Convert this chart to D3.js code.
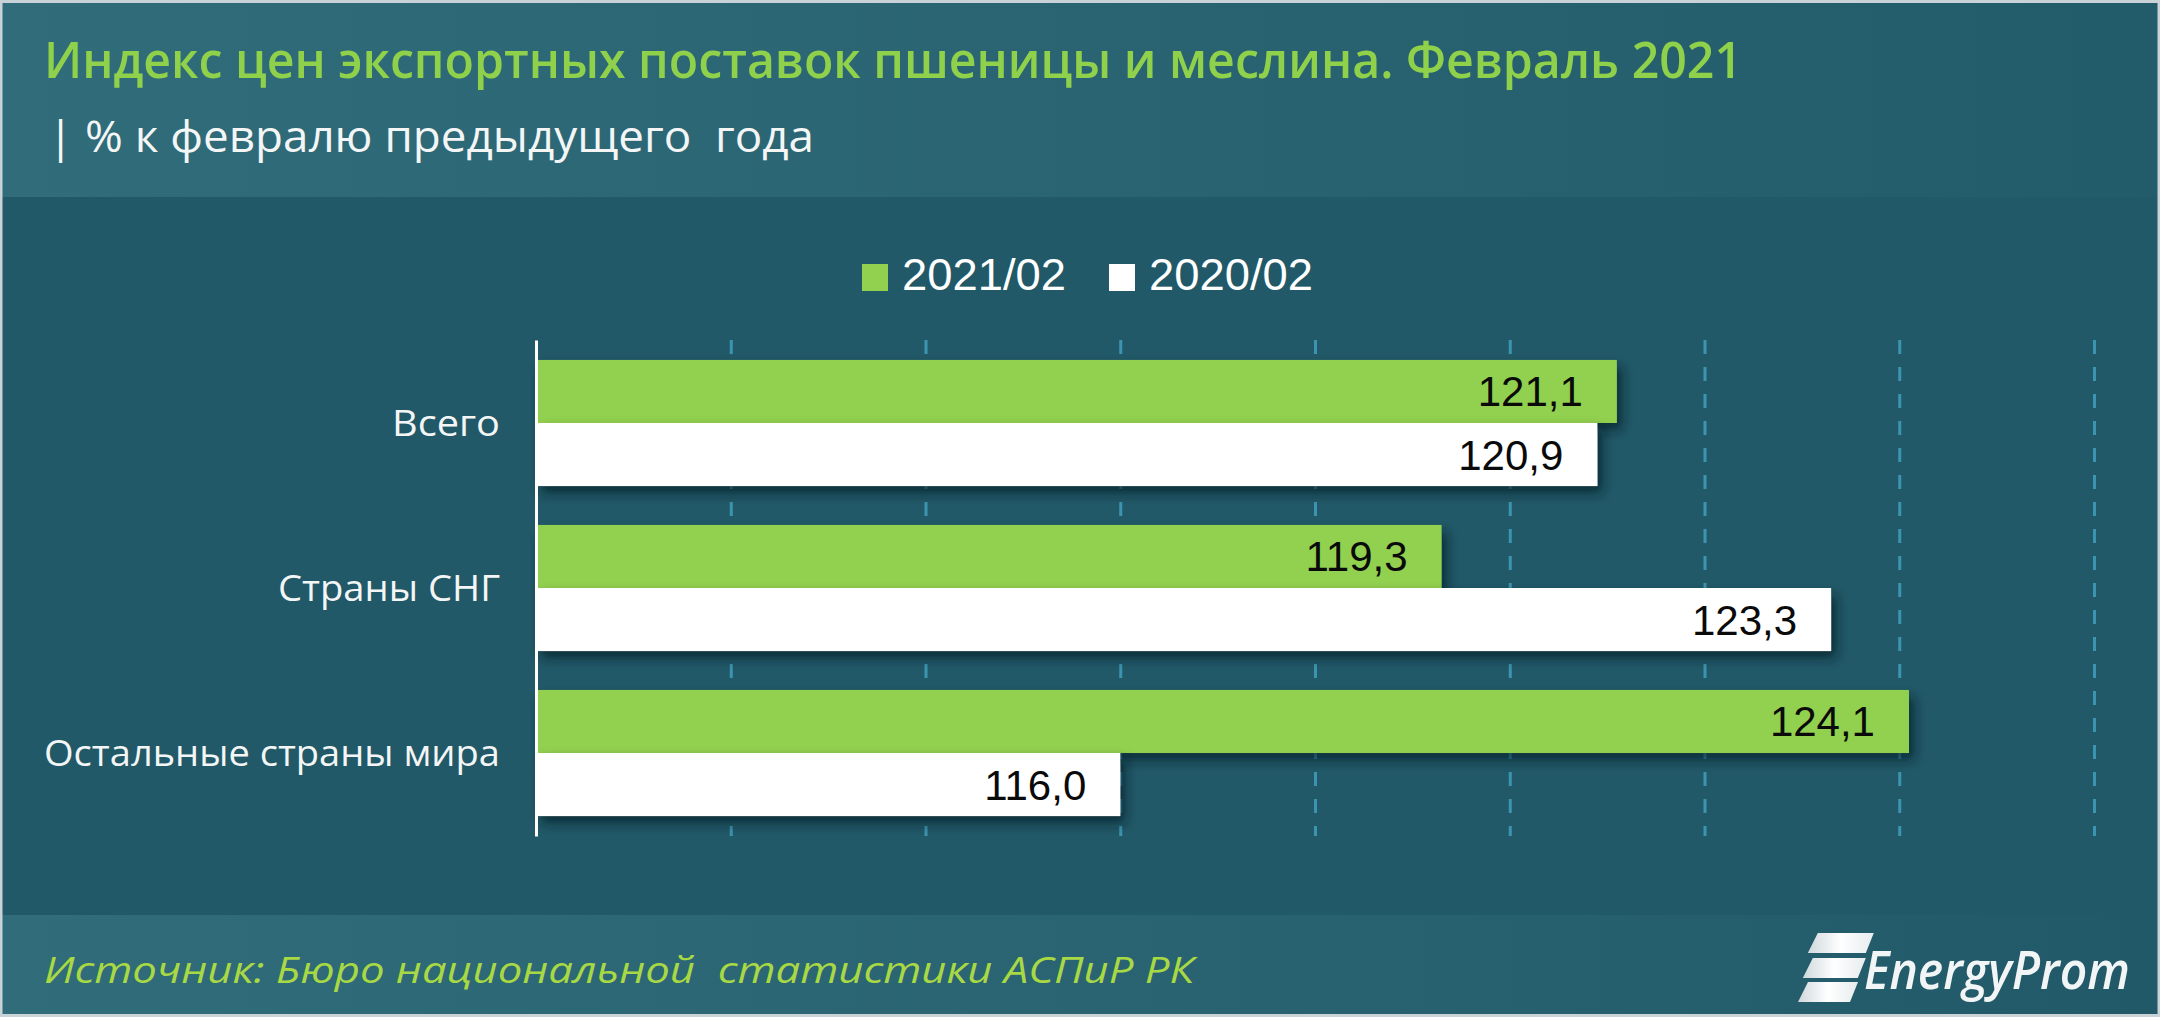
<!DOCTYPE html>
<html><head><meta charset="utf-8">
<script src="https://cdn.jsdelivr.net/npm/d3@7"></script>
<style>html,body{margin:0;padding:0;background:#215968;overflow:hidden}text{white-space:pre}</style>
</head><body>
<script>
const categories = ["Всего", "Страны СНГ", "Остальные страны мира"];
const seriesNames = ["2021/02", "2020/02"];
const values2021 = [121.1, 119.3, 124.1];
const values2020 = [120.9, 123.3, 116.0];
const xTicks = [110, 112, 114, 116, 118, 120, 122, 124, 126];
const titleText = "Индекс цен экспортных поставок пшеницы и меслина. Февраль 2021";
const subtitleText = "| % к февралю предыдущего  года";
const sourceText = "Источник: Бюро национальной  статистики АСПиР РК";
const logoText = "EnergyProm";

const W = 2160, H = 1017;
const colors = {"2021/02": "#92d050", "2020/02": "#ffffff"};
const svg = d3.select("body").append("svg").attr("width", W).attr("height", H);
const defs = svg.append("defs");

function lg(id, stops) {
  const g = defs.append("linearGradient").attr("id", id).attr("x1", 0).attr("x2", 1).attr("y1", 0).attr("y2", 0);
  stops.forEach(s => g.append("stop").attr("offset", s[0]).attr("stop-color", s[1]));
}
lg("hdr", [[0, "#306c7a"], [0.5, "#2a6473"], [1, "#225b69"]]);
lg("ftr", [[0, "#306c7a"], [0.5, "#2a6473"], [1, "#215968"]]);
const logoG = defs.append("linearGradient").attr("id", "logoG").attr("x1", 0).attr("x2", 1).attr("y1", 0).attr("y2", 0);
logoG.append("stop").attr("offset", 0).attr("stop-color", "#cfd8dc");
logoG.append("stop").attr("offset", 0.5).attr("stop-color", "#ffffff");
logoG.append("stop").attr("offset", 1).attr("stop-color", "#e6ecee");

const sh = defs.append("filter").attr("id", "shadow").attr("x", "-5%").attr("y", "-20%").attr("width", "115%").attr("height", "160%");
sh.append("feDropShadow").attr("dx", 5).attr("dy", 7).attr("stdDeviation", 6)
  .attr("flood-color", "#061c22").attr("flood-opacity", 0.7);

// backgrounds
svg.append("rect").attr("x", 0).attr("y", 0).attr("width", W).attr("height", H).attr("fill", "#215968");
svg.append("rect").attr("x", 0).attr("y", 0).attr("width", W).attr("height", 197).attr("fill", "url(#hdr)");
svg.append("rect").attr("x", 0).attr("y", 915).attr("width", W).attr("height", H - 915).attr("fill", "url(#ftr)");
svg.append("rect").attr("x", 1).attr("y", 1.5).attr("width", W - 2).attr("height", H - 3)
  .attr("fill", "none").attr("stroke", "#c9d3d7").attr("stroke-width", 3);

function fitText(sel, width) {
  sel.attr("textLength", width).attr("lengthAdjust", "spacingAndGlyphs");
}

// title
svg.append("text").attr("x", 44).attr("y", 78).text(titleText)
  .attr("font-family", "Open Sans").attr("font-weight", 600).attr("font-size", 50).attr("fill", "#8fd14a")
  .call(fitText, 1698);
svg.append("text").attr("x", 48).attr("y", 152).text(subtitleText)
  .attr("font-family", "Open Sans").attr("font-size", 44).attr("fill", "#f4f6f6")
  .call(fitText, 766);

// scales
const x = d3.scaleLinear().domain([110, 126]).range([536, 2094]);
const y = d3.scaleBand().domain(categories).range([340, 836]).paddingInner(0.236).paddingOuter(0.121);
const ys = d3.scaleBand().domain(seriesNames).range([0, y.bandwidth()]);

// gridlines via axis
const grid = svg.append("g").attr("transform", "translate(0,340)")
  .call(d3.axisBottom(x).tickValues(xTicks.slice(1)).tickSize(496).tickFormat(""));
grid.select(".domain").remove();
grid.selectAll(".tick line").attr("stroke", "#3c95b0").attr("stroke-width", 3).attr("stroke-dasharray", "14,13");

// bars
const data = categories.map((c, i) => ({cat: c, vals: [
  {s: "2021/02", v: values2021[i]}, {s: "2020/02", v: values2020[i]}]}));
const fmt = v => d3.format(".1f")(v).replace(".", ",");

const groups = svg.append("g").selectAll("g").data(data).join("g")
  .attr("transform", d => `translate(0,${y(d.cat)})`);
groups.selectAll("rect").data(d => d.vals).join("rect")
  .attr("x", x(110)).attr("y", d => ys(d.s))
  .attr("width", d => x(d.v) - x(110)).attr("height", ys.bandwidth())
  .attr("fill", d => colors[d.s]).attr("filter", "url(#shadow)");
groups.selectAll("text.val").data(d => d.vals).join("text").attr("class", "val")
  .attr("x", d => x(d.v) - 34).attr("y", d => ys(d.s) + ys.bandwidth() / 2 + 15)
  .attr("text-anchor", "end").attr("font-family", "Liberation Sans").attr("font-size", 42)
  .attr("fill", "#0a0a0a").text(d => fmt(d.v));

// y axis line and category labels
const yAxis = svg.append("g").attr("transform", `translate(${x(110)},0)`)
  .call(d3.axisLeft(y).tickSize(0).tickPadding(36));
yAxis.select(".domain").attr("stroke", "#ffffff").attr("stroke-width", 3);
yAxis.selectAll(".tick text").attr("font-family", "Open Sans").attr("font-size", 36)
  .attr("fill", "#f4f6f6").attr("dy", "0.35em");
yAxis.selectAll(".tick text").each(function(d) {
  const t = d3.select(this);
  if (d === "Остальные страны мира") t.call(fitText, 456);
  if (d === "Страны СНГ") t.call(fitText, 222);
  if (d === "Всего") t.call(fitText, 108);
});

// legend
const legend = svg.append("g");
const legX = [862, 1109];
seriesNames.forEach((s, i) => {
  legend.append("rect").attr("x", legX[i]).attr("y", 264).attr("width", 26).attr("height", 27).attr("fill", colors[s]);
  legend.append("text").attr("x", legX[i] + 40).attr("y", 290).text(s)
    .attr("font-family", "Liberation Sans").attr("font-size", 45).attr("fill", "#ffffff")
    .call(fitText, 164);
});

// footer
svg.append("text").attr("x", 44).attr("y", 983).text(sourceText)
  .attr("font-family", "Open Sans").attr("font-style", "italic").attr("font-size", 36)
  .attr("fill", "#a8d844").call(fitText, 1150);

// logo icon: three slanted stripes
const logo = svg.append("g").attr("transform", "translate(1790,933)");
[[0, 20], [25, 20], [49, 20]].forEach((r, i) => {
  const top = r[0], h = r[1];
  const sk = 0.2;
  const x0 = 8 + (69 - top) * sk, w = 56 - i * 3;
  logo.append("path")
    .attr("d", `M${x0 + 6},${top} L${x0 + w + 6},${top} L${x0 + w + 6 - h * sk - 4},${top + h} L${x0 - h * sk},${top + h} Z`)
    .attr("fill", "url(#logoG)");
});
svg.append("text").attr("x", 1864).attr("y", 989).text(logoText)
  .attr("font-family", "Open Sans").attr("font-style", "italic").attr("font-weight", 600)
  .attr("font-size", 52).attr("fill", "#f2f5f6").call(fitText, 266);
</script>
</body></html>
